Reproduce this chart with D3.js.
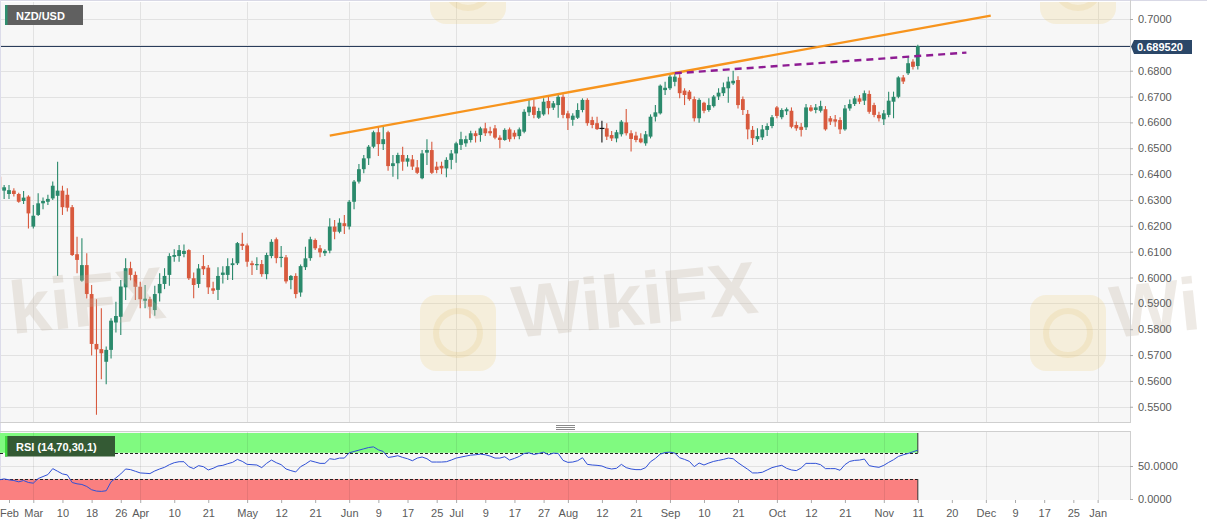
<!DOCTYPE html>
<html>
<head>
<meta charset="utf-8">
<script src="https://cdnjs.cloudflare.com/ajax/libs/d3/7.8.5/d3.min.js"></script>
<style>
html,body{margin:0;padding:0;background:#ffffff;}
svg{display:block;font-family:"Liberation Sans",Arial,Helvetica,sans-serif;}
</style>
</head>
<body>
<svg id="chart" width="1207" height="526"></svg>
<script>
// ---------- DATA (NZD/USD daily) ----------
const symbol = "NZD/USD";
const rsiLabel = "RSI (14,70,30,1)";

// trading calendar (weekdays) from 20 Feb 2020 to 1 Jan 2021 — x categories
const calendar = d3.timeDay.range(new Date(2020, 1, 20), new Date(2021, 0, 2))
  .filter(d => d.getDay() !== 0 && d.getDay() !== 6);
const dayKeys = calendar.map(d3.timeFormat("%Y-%m-%d"));

const opens = [
.6390,.6336,.6323,.6336,.6323,.6296,.6313,
.6197,.6242,.6287,.6293,.6306,.6316,.6336,.6320,.6272,.6090,
.5988,.6048,.5936,.5743,.5723,
.5674,.5720,.5826,.5848,.5962,
.6036,.6010,.5964,.5910,.5916,
.5874,.5939,.5975,.6010,.6080,
.6083,.6091,.6106,.5997,.5975,
.6044,.6038,.5958,.5952,.6010,
.6010,.6048,.6055,.6130,.6124,
.6055,.6048,.6052,.6013,.6083,
.6148,.6076,.6078,.5990,.6006,
.5942,.6040,.6075,.6145,.6113,
.6094,.6104,.6197,.6177,.6210,
.6197,.6293,.6371,.6419,.6461,
.6506,.6562,.6516,.6562,.6431,
.6442,.6474,.6448,.6457,.6426,
.6384,.6483,.6493,.6429,.6432,
.6422,.6455,
.6480,.6513,.6519,
.6532,.6558,.6551,.6577,.6566,
.6577,.6541,.6532,.6573,.6560,
.6547,.6564,.6639,.6661,.6618,
.6631,.6683,.6657,.6667,.6699,
.6635,.6610,.6618,.6648,.6687,
.6609,.6597,.6579,.6577,.6551,
.6538,.6554,.6600,.6558,.6549,
.6538,.6519,.6545,.6622,.6635,
.6725,
.6732,.6757,.6773,.6723,
.6719,.6690,.6616,.6676,.6648,
.6663,.6700,.6713,.6732,.6751,
.6764,.6690,.6633,.6571,.6535,
.6542,.6571,.6586,
.6658,.6620,
.6643,.6645,.6590,.6583,.6581,
.6658,.6648,.6645,.6651,.6616,
.6612,.6609,.6573,.6654,.6671,
.6693,.6684,.6710,.6667,.6629,
.6612,.6629,.6680,.6699,.6774,
.6790,.6835,.6818];

const highs = [
.6400,.6358,.6358,.6345,.6328,.6335,.6318,
.6280,.6326,.6309,.6320,.6371,.6448,.6355,.6345,.6280,.6158,
.6152,.6094,.5971,.5916,.5881,
.5733,.5842,.5906,.5990,.6074,
.6061,.6023,.5984,.5971,.5926,
.5968,.6016,.6036,.6094,.6109,
.6126,.6128,.6109,.6019,.6052,
.6087,.6048,.5984,.6040,.6044,
.6074,.6074,.6137,.6173,.6132,
.6065,.6078,.6068,.6096,.6148,
.6155,.6122,.6087,.6010,.6016,
.6050,.6119,.6158,.6151,.6126,
.6109,.6229,.6222,.6229,.6242,
.6300,.6377,.6439,.6474,.6513,
.6568,.6583,.6586,.6568,.6474,
.6483,.6506,.6474,.6474,.6455,
.6493,.6535,.6525,.6448,.6448,
.6465,.6493,
.6525,.6564,.6548,
.6568,.6568,.6583,.6599,.6583,
.6590,.6550,.6577,.6580,.6570,
.6580,.6651,.6689,.6689,.6657,
.6693,.6700,.6683,.6706,.6709,
.6645,.6635,.6674,.6693,.6693,
.6622,.6622,.6606,.6597,.6567,
.6571,.6609,.6652,.6570,.6564,
.6558,.6567,.6631,.6667,.6747,
.6757,
.6790,.6792,.6786,.6732,
.6725,.6700,.6693,.6680,.6693,
.6706,.6732,.6754,.6777,.6800,
.6779,.6700,.6648,.6586,.6577,
.6590,.6597,.6629,
.6663,.6655,
.6658,.6658,.6603,.6598,.6671,
.6667,.6671,.6684,.6663,.6625,
.6629,.6620,.6667,.6689,.6702,
.6706,.6723,.6723,.6676,.6641,
.6648,.6719,.6719,.6779,.6783,
.6857,.6844,.6900];

const lows = [
.6335,.6304,.6304,.6313,.6289,.6284,.6190,
.6190,.6238,.6264,.6280,.6300,.6006,.6242,.6255,.6083,.6016,
.5984,.5919,.5698,.5469,.5606,
.5587,.5687,.5787,.5778,.5913,
.5989,.5913,.5881,.5881,.5842,
.5852,.5907,.5955,.5968,.6061,
.6061,.6078,.5990,.5920,.5960,
.6010,.5936,.5936,.5913,.5977,
.5990,.5990,.6048,.6106,.6042,
.6010,.6029,.6003,.5993,.6074,
.6055,.6040,.5977,.5955,.5920,
.5926,.6029,.6065,.6106,.6078,
.6083,.6094,.6148,.6171,.6168,
.6186,.6264,.6364,.6403,.6435,
.6500,.6470,.6493,.6413,.6390,
.6380,.6413,.6429,.6416,.6400,
.6380,.6435,.6400,.6403,.6400,
.6388,.6419,
.6444,.6493,.6506,
.6522,.6522,.6525,.6547,.6548,
.6535,.6500,.6529,.6525,.6535,
.6535,.6558,.6625,.6616,.6613,
.6626,.6631,.6648,.6618,.6616,
.6571,.6587,.6613,.6639,.6587,
.6577,.6571,.6522,.6532,.6528,
.6523,.6545,.6549,.6487,.6523,
.6519,.6510,.6538,.6603,.6631,
.6706,
.6725,.6740,.6693,.6667,
.6684,.6603,.6599,.6635,.6641,
.6658,.6687,.6702,.6676,.6745,
.6654,.6629,.6535,.6513,.6525,
.6532,.6547,.6577,
.6616,.6612,
.6629,.6577,.6568,.6545,.6571,
.6641,.6635,.6638,.6568,.6590,
.6583,.6555,.6568,.6645,.6663,
.6671,.6667,.6633,.6620,.6603,
.6590,.6620,.6616,.6693,.6749,
.6783,.6805,.6805];

const closes = [
.6342,.6349,.6338,.6323,.6293,.6309,.6248,
.6239,.6287,.6296,.6304,.6355,.6336,.6272,.6270,.6087,.6068,
.6048,.5936,.5743,.5722,.5707,
.5720,.5833,.5851,.5965,.6036,
.6010,.5964,.5916,.5918,.5887,
.5936,.5975,.6006,.6083,.6087,
.6106,.6103,.5997,.5971,.6035,
.6032,.5962,.5949,.6006,.6019,
.6044,.6055,.6133,.6122,.6061,
.6048,.6052,.6013,.6087,.6138,
.6075,.6080,.5985,.6006,.5936,
.6044,.6074,.6148,.6113,.6097,
.6103,.6197,.6177,.6212,.6199,
.6293,.6371,.6419,.6461,.6506,
.6562,.6516,.6535,.6431,.6442,
.6474,.6448,.6461,.6429,.6405,
.6480,.6493,.6405,.6416,.6422,
.6455,.6480,
.6519,.6535,.6535,
.6558,.6547,.6577,.6558,.6558,
.6541,.6532,.6571,.6535,.6545,
.6573,.6641,.6661,.6629,.6644,
.6680,.6655,.6674,.6699,.6629,
.6616,.6626,.6648,.6687,.6597,
.6590,.6574,.6579,.6545,.6538,
.6562,.6603,.6558,.6536,.6532,
.6523,.6554,.6622,.6639,.6742,
.6734,
.6777,.6777,.6713,.6706,
.6690,.6616,.6687,.6645,.6667,
.6700,.6715,.6736,.6758,.6761,
.6667,.6648,.6573,.6539,.6547,
.6573,.6586,.6620,
.6625,.6648,
.6651,.6583,.6577,.6571,.6658,
.6645,.6658,.6663,.6573,.6603,
.6603,.6573,.6654,.6671,.6693,
.6680,.6713,.6641,.6629,.6616,
.6635,.6684,.6699,.6774,.6758,
.6829,.6815,.68952];

const rsiValues = [
29,30.5,29,28,26,28,25,
24,31,34,37,46,42,38,36.5,25,23,
22,19,14,12,11.5,
12.5,26,32,38,45.5,
44.5,42,39.5,39,38.5,
42.5,45.5,48,52,55,
56.5,56.5,49,46,50.5,
49,44,46.5,50,51,
53.5,55.5,60,57,52.5,
52,51.5,47.5,54,59,
55,52,45.5,43,41,
49,53,58,56,54,
54,61,60,62,62,
70,72,74,76,78,
79,74.5,72,63,64,
65.6,63,61,58,62,
63.6,61,56,56,56,
56.5,59,
62,63.5,65,
66.5,67,68,67,65,
62,62,64,59,61.5,
64.5,69,70,67.5,69,
71,67,69.5,69,58.5,
55.5,56,58,62.5,52.5,
51.5,51,50,47,45.5,
46.5,52.5,47.5,45.5,44.5,
44.5,47.5,56.5,61.5,68,
70.4,
71,69.5,62.5,60,
57,49,54.5,51.5,54.5,
57,58.5,60,62,61,
55,50,45,39.5,39.5,
40.5,44,47.5,
49.5,51,
46.5,44,43,47,54,
54,54,52,46,46,
46,43.5,52,57,58.5,
59,60.5,50.5,49,48,
51,55.5,59.5,64.5,67,
69,71.5,74];

const dates = dayKeys.slice(0, closes.length);

// axis ticks
const tickDates = ["2020-02-24","2020-03-02","2020-03-10","2020-03-18","2020-03-26","2020-04-01","2020-04-10","2020-04-21",
  "2020-05-01","2020-05-12","2020-05-21","2020-06-01","2020-06-09","2020-06-17","2020-06-25","2020-07-01","2020-07-09",
  "2020-07-17","2020-07-27","2020-08-03","2020-08-12","2020-08-21","2020-09-01","2020-09-10","2020-09-21","2020-10-01",
  "2020-10-12","2020-10-21","2020-11-02","2020-11-11","2020-11-20","2020-12-01","2020-12-09","2020-12-17","2020-12-25","2021-01-01"];
const tickLabels = ["Feb","Mar","10","18","26","Apr","10","21","May","12","21","Jun","9","17","25","Jul","9",
  "17","27","Aug","12","21","Sep","10","21","Oct","12","21","Nov","11","20","Dec","9","17","25","Jan"];
const monthGridDates = ["2020-03-02","2020-04-01","2020-05-01","2020-06-01","2020-07-01","2020-08-03","2020-09-01",
  "2020-10-01","2020-11-02","2020-12-01","2021-01-01"];
const priceTicks = [0.55,0.56,0.57,0.58,0.59,0.60,0.61,0.62,0.63,0.64,0.65,0.66,0.67,0.68,0.69,0.70];
const rsiTicks = [0, 50];
const rsiUpper = 70, rsiLower = 30;

// trend lines
const resistanceDates = ["2020-05-26","2020-12-02"];
const resistancePrices = [0.6549, 0.7013];
const necklineDates = ["2020-09-02","2020-11-25"];
const necklinePrices = [0.6790, 0.6870];

// ---------- LAYOUT ----------
const svg = d3.select("#chart");
const plotRight = 1130;
const mainTop = 2, mainBottom = 422;
const rsiTop = 432, rsiBottom = 500;
const green = "#2b8a6c", red = "#d85a3e";

const x = d3.scalePoint().domain(dayKeys)
  .range([-0.72, -0.72 + 4.86 * (dayKeys.length - 1)]);
const y = d3.scaleLinear().domain([0.55, 0.70]).range([406.75, 19]);
const ry = d3.scaleLinear().domain([0, 100]).range([499, 433]);

const defs = svg.append("defs");
defs.append("clipPath").attr("id","mainClip").append("rect")
  .attr("x",0).attr("y",mainTop).attr("width",plotRight).attr("height",mainBottom-mainTop);
defs.append("clipPath").attr("id","rsiClip").append("rect")
  .attr("x",0).attr("y",rsiTop).attr("width",plotRight).attr("height",rsiBottom-rsiTop);

// backgrounds
svg.append("rect").attr("x",0).attr("y",mainTop).attr("width",plotRight).attr("height",mainBottom-mainTop).attr("fill","#f7f7f7");
svg.append("rect").attr("x",0).attr("y",rsiTop).attr("width",plotRight).attr("height",rsiBottom-rsiTop).attr("fill","#f7f7f7");

// gridlines main
const gMain = svg.append("g").attr("clip-path","url(#mainClip)");
gMain.selectAll("line.hg").data(priceTicks).join("line")
  .attr("x1",0).attr("x2",plotRight)
  .attr("y1",d=>Math.round(y(d))+0.5).attr("y2",d=>Math.round(y(d))+0.5)
  .attr("stroke","#e2e2e2").attr("stroke-width",1);
gMain.selectAll("line.vg").data(monthGridDates).join("line")
  .attr("x1",d=>Math.round(x(d))+0.5).attr("x2",d=>Math.round(x(d))+0.5)
  .attr("y1",mainTop).attr("y2",mainBottom)
  .attr("stroke","#e2e2e2").attr("stroke-width",1);

// watermarks (faint)
const wm = gMain.append("g");
const logoSpots = [[420,295],[1030,295],[-190,295],[430,-52],[1040,-52]];
logoSpots.forEach(([lx,ly]) => {
  wm.append("rect").attr("x",lx).attr("y",ly).attr("width",76).attr("height",76).attr("rx",16)
    .attr("fill","#f0c860").attr("opacity",0.18);
  wm.append("circle").attr("cx",lx+38).attr("cy",ly+38).attr("r",22)
    .attr("fill","none").attr("stroke","#e0b850").attr("stroke-width",6).attr("opacity",0.15);
});
const wmOuter = svg.append("g");
[[515,338,"WikiFX"],[12,334,"kiFX"],[1113,338,"Wi"]].forEach(([tx,ty,t]) => {
  wmOuter.append("text").attr("x",tx).attr("y",ty)
    .attr("transform",`rotate(-6,${tx},${ty})`)
    .attr("font-size",74).attr("font-weight","bold")
    .attr("fill","#c4b6a4").attr("opacity",0.28).text(t);
});

// current price line
const lastClose = closes[closes.length-1];
gMain.append("line").attr("x1",0).attr("x2",plotRight)
  .attr("y1",Math.round(y(lastClose))+0.5).attr("y2",Math.round(y(lastClose))+0.5)
  .attr("stroke","#2a3d5c").attr("stroke-width",1);

// candles
const idx = d3.range(closes.length);
const colorOf = i => closes[i] > opens[i] ? green : (closes[i] < opens[i] ? red : "#111");
const gC = gMain.append("g");
gC.selectAll("line.wick").data(idx).join("line")
  .attr("x1",i=>x(dates[i])).attr("x2",i=>x(dates[i]))
  .attr("y1",i=>y(highs[i])).attr("y2",i=>y(lows[i]))
  .attr("stroke",colorOf).attr("stroke-width",1.1);
gC.selectAll("rect.body").data(idx).join("rect")
  .attr("x",i=>x(dates[i]) - (closes[i]===opens[i] ? 2.5 : 1.9))
  .attr("width",i=> closes[i]===opens[i] ? 5 : 3.8)
  .attr("y",i=>y(Math.max(opens[i],closes[i])))
  .attr("height",i=>Math.max(1.2, Math.abs(y(opens[i]) - y(closes[i]))))
  .attr("fill",colorOf);

// trend lines
const line = d3.line().x(d=>x(d[0])).y(d=>y(d[1]));
gMain.append("path").datum(resistanceDates.map((d,i)=>[d,resistancePrices[i]]))
  .attr("d",line).attr("fill","none").attr("stroke","#f7941d").attr("stroke-width",2.4);
gMain.append("path").datum(necklineDates.map((d,i)=>[d,necklinePrices[i]]))
  .attr("d",line).attr("fill","none").attr("stroke","#8e1c93").attr("stroke-width",2.4)
  .attr("stroke-dasharray","7,5");

// borders
svg.append("line").attr("x1",0).attr("x2",1207).attr("y1",0.5).attr("y2",0.5).attr("stroke","#d9d9e6");
svg.append("line").attr("x1",0.5).attr("x2",0.5).attr("y1",0).attr("y2",rsiBottom).attr("stroke","#dcdcea");
svg.append("line").attr("x1",0).attr("x2",plotRight).attr("y1",mainBottom+0.5).attr("y2",mainBottom+0.5).attr("stroke","#cfcfcf");
svg.append("line").attr("x1",plotRight+0.5).attr("x2",plotRight+0.5).attr("y1",0).attr("y2",mainBottom+1).attr("stroke","#cfcfcf");
svg.append("line").attr("x1",0).attr("x2",plotRight).attr("y1",rsiTop-0.5).attr("y2",rsiTop-0.5).attr("stroke","#cfcfcf");
svg.append("line").attr("x1",plotRight+0.5).attr("x2",plotRight+0.5).attr("y1",rsiTop-1).attr("y2",rsiBottom).attr("stroke","#cfcfcf");

// panel grip
[425,427,429].forEach(gy => svg.append("line").attr("x1",556).attr("x2",575).attr("y1",gy+0.5).attr("y2",gy+0.5).attr("stroke","#8a8a8a"));

// symbol label
svg.append("rect").attr("x",5).attr("y",5).attr("width",78).attr("height",20).attr("fill","#606060");
svg.append("rect").attr("x",5).attr("y",5).attr("width",2.5).attr("height",20).attr("fill","#2f8f6f");
svg.append("text").attr("x",16).attr("y",19.5).attr("fill","#ffffff").attr("font-size",11).attr("font-weight","bold").text(symbol);

// price axis
const yAxis = d3.axisRight(y).tickValues(priceTicks.filter(d=>d!==0.69)).tickFormat(d3.format(".4f")).tickSize(3).tickPadding(5);
const gy = svg.append("g").attr("transform",`translate(${plotRight},0)`).call(yAxis);
gy.select(".domain").remove();
gy.selectAll("line").attr("stroke","#aaaaaa");
gy.selectAll("text").attr("fill","#5a5a5a").attr("font-size",11).attr("font-family","Liberation Sans, Arial, sans-serif");

// price tag
const py = Math.round(y(lastClose))+0.5;
svg.append("path").attr("d",`M${plotRight+1},${py} L${plotRight+4},${py-6.5} L${plotRight+62},${py-6.5} L${plotRight+62},${py+7.5} L${plotRight+4},${py+7.5} Z`)
  .attr("fill","#2b4768");
svg.append("text").attr("x",plotRight+7).attr("y",py+4.5).attr("fill","#ffffff").attr("font-size",11).attr("font-weight","bold")
  .text(d3.format(".6f")(lastClose));

// ---------- RSI PANEL ----------
const gR = svg.append("g").attr("clip-path","url(#rsiClip)");
const lastX = x(dates[dates.length-1]);
gR.append("rect").attr("x",0).attr("width",lastX).attr("y",ry(100)).attr("height",ry(rsiUpper)-ry(100)).attr("fill","#80fa80");
gR.append("rect").attr("x",0).attr("width",lastX).attr("y",ry(rsiLower)).attr("height",ry(0)-ry(rsiLower)+2).attr("fill","#fa8080");
gR.append("line").attr("x1",0).attr("x2",plotRight).attr("y1",Math.round(ry(50))+0.5).attr("y2",Math.round(ry(50))+0.5).attr("stroke","#e2e2e2");
gR.selectAll("line.vg").data(monthGridDates).join("line")
  .attr("x1",d=>Math.round(x(d))+0.5).attr("x2",d=>Math.round(x(d))+0.5)
  .attr("y1",rsiTop).attr("y2",rsiBottom)
  .attr("stroke","#000").attr("stroke-opacity",0.08);
[rsiUpper, rsiLower].forEach(v => gR.append("line").attr("x1",0).attr("x2",lastX)
  .attr("y1",Math.round(ry(v))+0.5).attr("y2",Math.round(ry(v))+0.5)
  .attr("stroke","#222").attr("stroke-dasharray","3,2"));
gR.append("line").attr("x1",lastX).attr("x2",lastX).attr("y1",ry(100)).attr("y2",ry(rsiUpper)).attr("stroke","#333");
gR.append("line").attr("x1",lastX).attr("x2",lastX).attr("y1",ry(rsiLower)).attr("y2",ry(0)+1).attr("stroke","#333");
gR.append("path").datum(idx)
  .attr("d", d3.line().x(i=>x(dates[i])).y(i=>ry(rsiValues[i])))
  .attr("fill","none").attr("stroke","#2f50d6").attr("stroke-width",1);

// RSI label
svg.append("rect").attr("x",5).attr("y",436).attr("width",110).attr("height",20.5).attr("fill","#345a34");
svg.append("rect").attr("x",5).attr("y",436).attr("width",2.4).attr("height",20.5).attr("fill","#3fdc3f");
svg.append("text").attr("x",16).attr("y",450.5).attr("fill","#ffffff").attr("font-size",11).attr("font-weight","bold").text(rsiLabel);

// RSI axis
const rAxis = d3.axisRight(ry).tickValues(rsiTicks).tickFormat(d3.format(".4f")).tickSize(3).tickPadding(5);
const gra = svg.append("g").attr("transform",`translate(${plotRight},0)`).call(rAxis);
gra.select(".domain").remove();
gra.selectAll("line").attr("stroke","#aaaaaa");
gra.selectAll("text").attr("fill","#5a5a5a").attr("font-size",11).attr("font-family","Liberation Sans, Arial, sans-serif");

// x axis
const xAxis = d3.axisBottom(x).tickValues(tickDates).tickFormat((d,i)=>tickLabels[i]).tickSize(3).tickPadding(6);
const gx = svg.append("g").attr("transform",`translate(0,${rsiBottom})`).call(xAxis);
gx.select(".domain").remove();
gx.selectAll("line").attr("stroke","#aaaaaa");
gx.selectAll("text").attr("fill","#5a5a5a").attr("font-size",11).attr("font-family","Liberation Sans, Arial, sans-serif");
</script>
</body>
</html>
